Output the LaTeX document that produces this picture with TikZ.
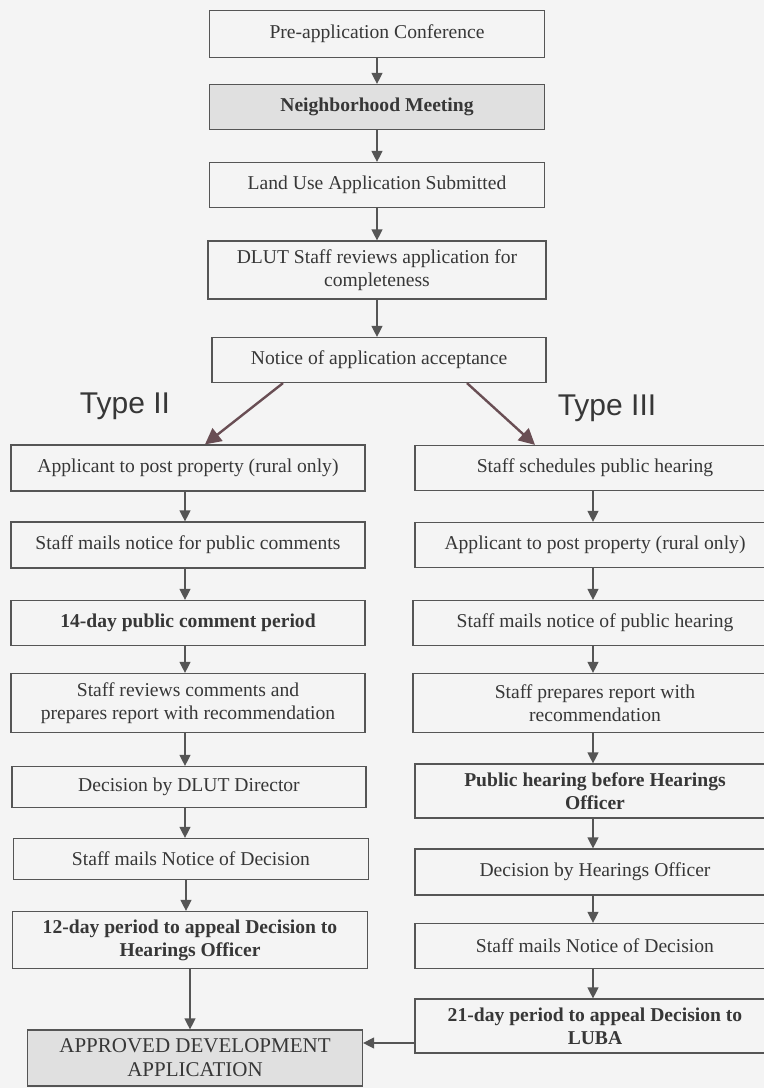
\documentclass[tikz,border=0pt]{standalone}
\usepackage{fontspec}
\setmainfont{Liberation Serif}
\newfontfamily\typefont{Liberation Sans}
\usetikzlibrary{arrows.meta}

\definecolor{boxline}{RGB}{85,85,85}
\definecolor{boxtext}{RGB}{55,55,55}
\definecolor{paper}{RGB}{244,244,244}
\definecolor{shade}{RGB}{224,224,224}
\definecolor{split}{RGB}{105,78,84}

\tikzset{
  stepbox/.style={draw=boxline, line width=0.6pt, text=boxtext, align=center,
    inner sep=2pt, font=\fontsize{9.8}{11.5}\selectfont},
  shadebox/.style={stepbox, fill=shade},
  flow/.style={draw=boxline, line width=0.6pt, -{Triangle[length=5.5pt,width=5.5pt]}},
  splitflow/.style={draw=split, line width=1.2pt, -{Triangle[length=8pt,width=8pt]}},
  typelabel/.style={text=boxtext, font=\typefont\fontsize{15}{18}\selectfont}
}

\begin{document}
\begin{tikzpicture}[x=0.5pt,y=-0.5pt]
    \useasboundingbox (0,0) rectangle (764,1088);
    \fill[paper] (0,0) rectangle (764,1088);
    \clip (0,0) rectangle (764,1088);

    % common steps
    \node (pre)    at (377,34)  [stepbox, minimum width=167.5pt, minimum height=23.5pt] {Pre-application Conference};
    \node (nbhd)   at (377,107) [shadebox, minimum width=167.5pt, minimum height=22.5pt] {\textbf{Neighborhood Meeting}};
    \node (land)   at (377,185) [stepbox, minimum width=167.5pt, minimum height=22.5pt] {Land Use Application Submitted};
    \node (dlut)   at (377,270) [stepbox, minimum width=169pt, minimum height=29pt] {DLUT Staff reviews application for\\completeness};
    \node (notice) at (379,360) [stepbox, minimum width=167pt, minimum height=22.5pt] {Notice of application acceptance};

    % Type II steps
    \node (l1) at (188,468)  [stepbox, minimum width=177pt, minimum height=23pt] {Applicant to post property (rural only)};
    \node (l2) at (188,545)  [stepbox, minimum width=177pt, minimum height=23pt] {Staff mails notice for public comments};
    \node (l3) at (188,623)  [stepbox, minimum width=177pt, minimum height=22.5pt] {\textbf{14-day public comment period}};
    \node (l4) at (188,703)  [stepbox, minimum width=177pt, minimum height=29.5pt] {Staff reviews comments and\\prepares report with recommendation};
    \node (l5) at (189,787)  [stepbox, minimum width=177pt, minimum height=20.5pt] {Decision by DLUT Director};
    \node (l6) at (191,859)  [stepbox, minimum width=177.5pt, minimum height=20.5pt] {Staff mails Notice of Decision};
    \node (l7) at (190,940)  [stepbox, minimum width=177.5pt, minimum height=28.5pt] {\textbf{12-day period to appeal Decision to}\\\textbf{Hearings Officer}};
    \node (approved) at (195,1058) [shadebox, minimum width=167.5pt, minimum height=28pt,
        font=\fontsize{10.5}{12}\selectfont] {APPROVED DEVELOPMENT\\APPLICATION};

    % Type III steps
    \node (r1) at (595,468)  [stepbox, minimum width=180pt, minimum height=22.5pt] {Staff schedules public hearing};
    \node (r2) at (595,545)  [stepbox, minimum width=180pt, minimum height=22.5pt] {Applicant to post property (rural only)};
    \node (r3) at (595,623)  [stepbox, minimum width=182pt, minimum height=22.5pt] {Staff mails notice of public hearing};
    \node (r4) at (595,703)  [stepbox, minimum width=182pt, minimum height=29.5pt] {Staff prepares report with\\recommendation};
    \node (r5) at (595,791)  [stepbox, minimum width=180pt, minimum height=27pt] {\textbf{Public hearing before Hearings}\\\textbf{Officer}};
    \node (r6) at (595,872)  [stepbox, minimum width=180pt, minimum height=23pt] {Decision by Hearings Officer};
    \node (r7) at (595,946)  [stepbox, minimum width=180pt, minimum height=22.5pt] {Staff mails Notice of Decision};
    \node (r8) at (595,1026) [stepbox, minimum width=180pt, minimum height=27pt] {\textbf{21-day period to appeal Decision to}\\\textbf{LUBA}};

    % branch labels
    \node (typeII)  at (125,406) [typelabel] {Type II};
    \node (typeIII) at (607,408) [typelabel] {Type III};

    % arrows
    \draw [flow] (pre) -- (nbhd);
    \draw [flow] (nbhd) -- (land);
    \draw [flow] (land) -- (dlut);
    \draw [flow] (dlut.south) -- (dlut.south |- notice.north);
    \draw [splitflow] ([xshift=-48pt]notice.south) -- ([xshift=8.5pt]l1.north);
    \draw [splitflow] ([xshift=44pt]notice.south) -- ([xshift=-30pt]r1.north);

    \draw [flow] ([xshift=-1.5pt]l1.south) -- ([xshift=-1.5pt]l1.south |- l2.north);
    \draw [flow] ([xshift=-1.5pt]l2.south) -- ([xshift=-1.5pt]l2.south |- l3.north);
    \draw [flow] ([xshift=-1.5pt]l3.south) -- ([xshift=-1.5pt]l3.south |- l4.north);
    \draw [flow] ([xshift=-1.5pt]l4.south) -- ([xshift=-1.5pt]l4.south |- l5.north);
    \draw [flow] ([xshift=-2pt]l5.south) -- ([xshift=-2pt]l5.south |- l6.north);
    \draw [flow] ([xshift=-2.5pt]l6.south) -- ([xshift=-2.5pt]l6.south |- l7.north);
    \draw [flow] (l7.south) -- (l7.south |- approved.north);

    \draw [flow] ([xshift=-1pt]r1.south) -- ([xshift=-1pt]r1.south |- r2.north);
    \draw [flow] ([xshift=-1pt]r2.south) -- ([xshift=-1pt]r2.south |- r3.north);
    \draw [flow] ([xshift=-1pt]r3.south) -- ([xshift=-1pt]r3.south |- r4.north);
    \draw [flow] ([xshift=-1pt]r4.south) -- ([xshift=-1pt]r4.south |- r5.north);
    \draw [flow] ([xshift=-1pt]r5.south) -- ([xshift=-1pt]r5.south |- r6.north);
    \draw [flow] ([xshift=-1pt]r6.south) -- ([xshift=-1pt]r6.south |- r7.north);
    \draw [flow] ([xshift=-1pt]r7.south) -- ([xshift=-1pt]r7.south |- r8.north);

    \coordinate (join) at (415,1043);
    \draw [flow] (r8.west |- join) -- (approved.east |- join);
\end{tikzpicture}
\end{document}
